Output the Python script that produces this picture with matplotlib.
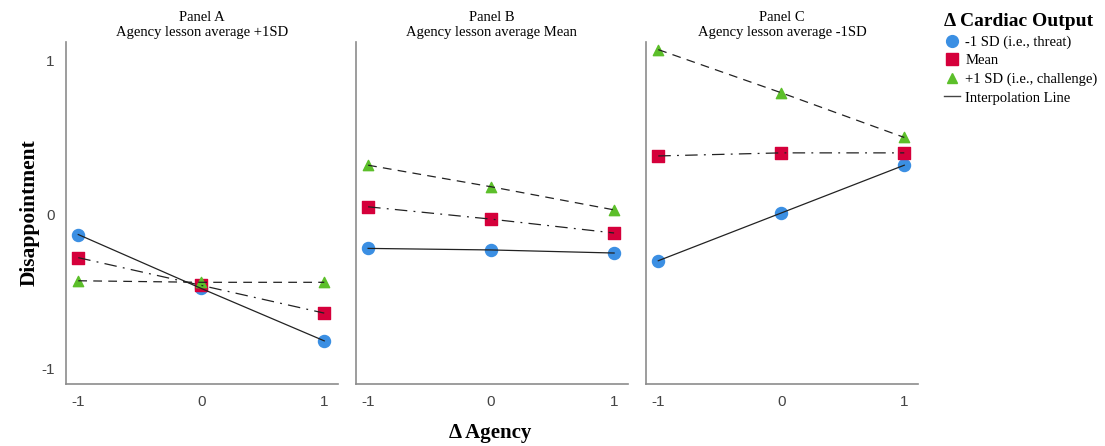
import matplotlib.pyplot as plt
from matplotlib.lines import Line2D

# Data
agency = [-1, 0, 1]
panels = ["Panel A\nAgency lesson average +1SD",
          "Panel B\nAgency lesson average Mean",
          "Panel C\nAgency lesson average -1SD"]

threat = [[-0.13, -0.48, -0.82],
          [-0.22, -0.23, -0.25],
          [-0.30, 0.01, 0.32]]
mean_co = [[-0.28, -0.46, -0.64],
           [0.05, -0.03, -0.12],
           [0.38, 0.40, 0.40]]
challenge = [[-0.43, -0.44, -0.44],
             [0.32, 0.18, 0.03],
             [1.07, 0.79, 0.50]]

series_labels = ["-1 SD (i.e., threat)", "Mean", "+1 SD (i.e., challenge)"]

blue = "#3b8fe3"
red = "#d5003b"
green = "#5cbf2a"
grey = "#8c8c8c"
serif = "Liberation Serif"
sans = "Liberation Sans"

fig = plt.figure(figsize=(11.05, 4.46), dpi=100)
lefts = [0.0597, 0.322, 0.5846]
axes = []
for i, left in enumerate(lefts):
    ax = fig.add_axes([left, 0.139, 0.246, 0.767])
    axes.append(ax)

    ax.plot(agency, threat[i], color="#222222", lw=0.9, ls="-", zorder=3)
    ax.plot(agency, mean_co[i], color="#222222", lw=0.9, ls=(0, (10, 5, 1.5, 5)), zorder=3)
    ax.plot(agency, challenge[i], color="#222222", lw=0.9, ls=(0, (7, 5)), zorder=3)

    ax.scatter(agency, threat[i], s=75, marker="o", color=blue, zorder=2)
    ax.scatter(agency, mean_co[i], s=75, marker="s", color=red, zorder=2)
    ax.scatter(agency, challenge[i], s=55, marker="^", color=green, zorder=2)

    ax.set_xlim(-1.1, 1.11)
    ax.set_ylim(-1.1, 1.12)
    ax.set_xticks([-1, 0, 1])
    ax.set_xticklabels(["-1", "0", "1"], fontfamily=sans, fontsize=11, color="#444444")
    ax.set_yticks([-1, 0, 1])
    if i == 0:
        ax.set_yticklabels(["-1", "0", "1"], fontfamily=sans, fontsize=11, color="#444444")
    else:
        ax.set_yticklabels([])
    ax.tick_params(length=0, pad=8)
    for side in ["top", "right"]:
        ax.spines[side].set_visible(False)
    for side in ["left", "bottom"]:
        ax.spines[side].set_color(grey)
        ax.spines[side].set_linewidth(1.2)
    ax.set_title(panels[i], fontfamily=serif, fontsize=10.5, pad=4, linespacing=1.25)

axes[0].set_ylabel("Disappointment", fontfamily=serif, fontsize=15.5, fontweight="bold", labelpad=1)
fig.text(0.444, 0.029, "\u0394 Agency", fontfamily=serif, fontsize=15, fontweight="bold",
         ha="center", va="center")

handles = [
    Line2D([], [], ls="none", marker="o", markersize=8.5, color=blue),
    Line2D([], [], ls="none", marker="s", markersize=8.5, color=red),
    Line2D([], [], ls="none", marker="^", markersize=7.5, color=green),
    Line2D([], [], color="#444444", lw=1),
]
leg = fig.legend(handles, series_labels + ["Interpolation Line"],
                 loc="upper left", bbox_to_anchor=(0.842, 1.0), frameon=False,
                 prop={"family": serif, "size": 10.5}, handlelength=1.1,
                 handletextpad=0.4, labelspacing=0.36,
                 title="\u0394 Cardiac Output",
                 title_fontproperties={"family": serif, "size": 14, "weight": "bold"})
leg._legend_box.align = "left"

fig.savefig("out.png", dpi=100)
